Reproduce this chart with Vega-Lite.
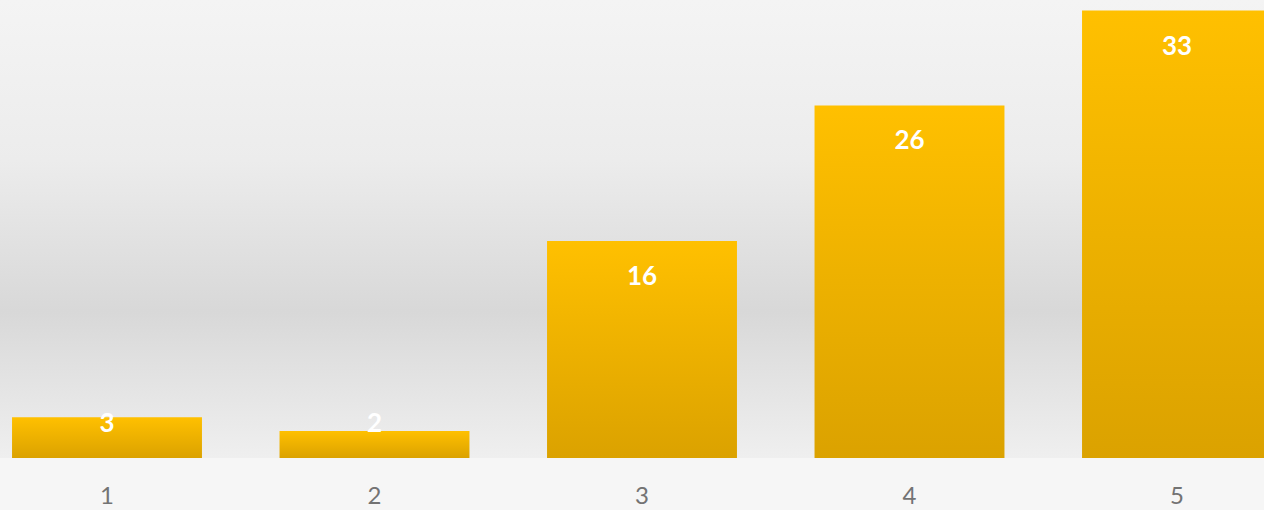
{
  "$schema": "https://vega.github.io/schema/vega-lite/v6.json",
  "width": 1264,
  "height": 458,
  "autosize": {"type": "none"},
  "padding": {"left": 0, "top": 0, "right": 0, "bottom": 52},
  "background": "#f6f6f6",
  "config": {
    "view": {
      "stroke": null,
      "fill": {
        "gradient": "linear", "x1": 0, "y1": 0, "x2": 0, "y2": 1,
        "stops": [
          {"offset": 0, "color": "#f4f4f4"},
          {"offset": 0.35, "color": "#ececec"},
          {"offset": 0.68, "color": "#d8d8d8"},
          {"offset": 0.76, "color": "#dedede"},
          {"offset": 1, "color": "#efefef"}
        ]
      }
    }
  },
  "data": {"values": [
    {"cat": "1", "value": 3},
    {"cat": "2", "value": 2},
    {"cat": "3", "value": 16},
    {"cat": "4", "value": 26},
    {"cat": "5", "value": 33}
  ]},
  "encoding": {
    "x": {
      "field": "cat", "type": "nominal", "sort": null,
      "scale": {"range": [-26.75, 1310.75], "paddingInner": 0.29, "paddingOuter": 0.145},
      "axis": {"title": null, "domain": false, "ticks": false, "labelAngle": 0,
               "labelFont": "Lato", "labelFontSize": 24, "labelColor": "#737373",
               "labelFontWeight": "normal", "labelPadding": 26}
    },
    "y": {
      "field": "value", "type": "quantitative",
      "scale": {"domain": [0, 33.78], "nice": false},
      "axis": null
    }
  },
  "layer": [
    {
      "mark": {
        "type": "bar",
        "fill": {
          "gradient": "linear", "x1": 0, "y1": 0, "x2": 0, "y2": 1,
          "stops": [
            {"offset": 0, "color": "#ffc000"},
            {"offset": 1, "color": "#dba200"}
          ]
        }
      }
    },
    {
      "mark": {
        "type": "text", "color": "white", "font": "Lato", "fontWeight": "bold",
        "fontSize": 26, "baseline": "middle",
        "dy": {"expr": "min(36, (datum.value - 2.5) * 13.56)"}
      },
      "encoding": {"text": {"field": "value", "type": "quantitative"}}
    }
  ]
}
